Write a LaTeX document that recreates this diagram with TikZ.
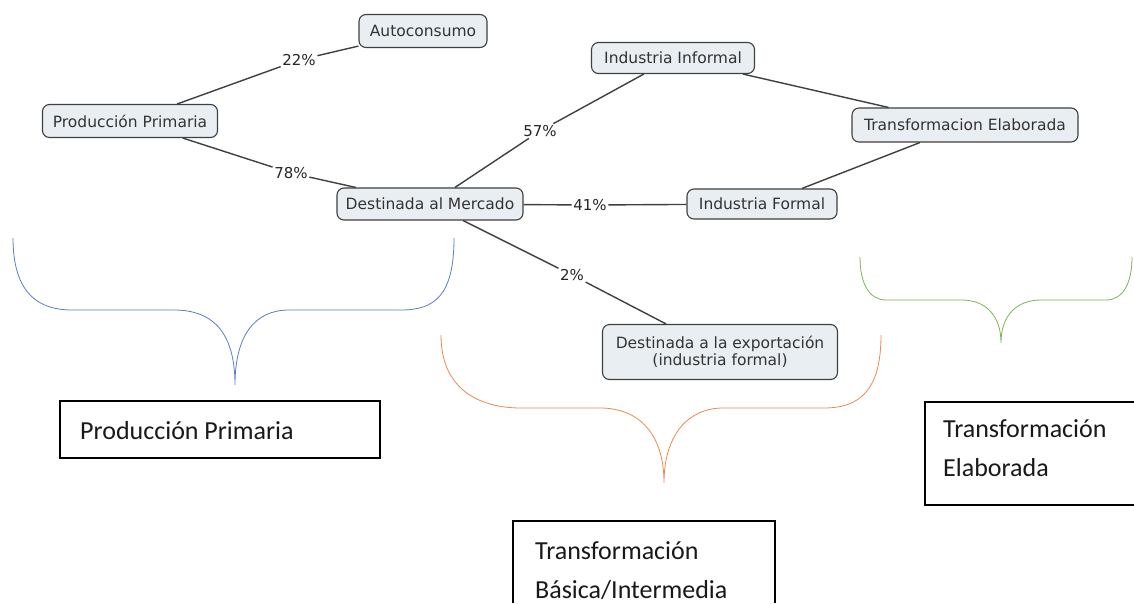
\documentclass[tikz,border=0pt]{standalone}
\usepackage{fontspec}
\setmainfont{DejaVu Sans}
\newfontfamily\boxfont{Carlito}
\begin{document}
\begin{tikzpicture}[x=1pt,y=-1pt,
  concept/.style={draw=black!75, line width=1.1pt, rounded corners=7pt, fill=nodefill,
    font=\fontsize{15.5}{17}\selectfont, text=black!80, minimum height=33pt, inner sep=3pt, align=center},
  link/.style={draw=black!75, line width=1.4pt},
  pct/.style={inner sep=1.5pt, font=\fontsize{15}{16}\selectfont, text=black!85},
  brace/.style={line width=0.8pt},
  stagetext/.style={font=\boxfont\fontsize{26}{30}\selectfont, anchor=base west, inner sep=0pt, text=black!90},
  stageframe/.style={line width=1.4pt}
]
\definecolor{nodefill}{HTML}{E9EEF2}
\definecolor{bblue}{HTML}{5B7FC6}
\definecolor{borange}{HTML}{F0884A}
\definecolor{bgreen}{HTML}{7DB557}
\useasboundingbox (0,0) rectangle (1134,603);
\fill[white] (0,0) rectangle (1134,603);

% concept nodes
\node[concept, minimum width=128pt] (auto) at (423,31) {Autoconsumo};
\node[concept, minimum width=175pt] (pp) at (130,121) {Producción Primaria};
\node[concept, minimum width=186pt, minimum height=32pt] (dm) at (430,204) {Destinada al Mercado};
\node[concept, minimum width=163pt, minimum height=31pt] (ii) at (673,58) {Industria Informal};
\node[concept, minimum width=226pt, minimum height=34pt] (te) at (965,125) {Transformacion Elaborada};
\node[concept, minimum width=150pt, minimum height=30pt] (if) at (762,204) {Industria Formal};
\node[concept, minimum width=235pt, minimum height=55pt] (ex) at (720,352) {Destinada a la exportación\\(industria formal)};

% linking phrases
\node[pct] (l22) at (299,60) {22\%};
\node[pct] (l78) at (291,173) {78\%};
\node[pct] (l57) at (540,131) {57\%};
\node[pct] (l41) at (590,205) {41\%};
\node[pct] (l2) at (572,275) {2\%};

% connectors
\draw[link] (pp) -- (l22) -- (auto);
\draw[link] (pp) -- (l78) -- (dm);
\draw[link] (dm) -- (l57) -- (ii);
\draw[link] (dm) -- (l41) -- (if);
\draw[link] (dm) -- (l2) -- (ex);
\draw[link] (ii) -- (te);
\draw[link] (te) -- (if);

% braces
\draw[brace, bblue] (13,238) .. controls (13,295) and (40,310) .. (72,310) -- (174,310)
  .. controls (215,310) and (235,335) .. (235,385)
  .. controls (235,335) and (255,310) .. (289,310) -- (401,310)
  .. controls (435,310) and (454,295) .. (454,238);
\draw[brace, borange] (441,335) .. controls (441,390) and (480,408) .. (521,408) -- (600,408)
  .. controls (640,408) and (664,435) .. (664,483)
  .. controls (664,435) and (688,408) .. (723,408) -- (824,408)
  .. controls (860,408) and (881,390) .. (881,335);
\draw[brace, bgreen] (860,257) .. controls (860,285) and (870,300) .. (886,300) -- (962,300)
  .. controls (985,300) and (1001,315) .. (1001,343)
  .. controls (1001,315) and (1017,300) .. (1041,300) -- (1106,300)
  .. controls (1122,300) and (1132,285) .. (1132,257);

% stage boxes
\draw[stageframe] (60,401) rectangle (380,458);
\node[stagetext] (s1) at (80,439) {Producción Primaria};
\draw[stageframe] (513,603) -- (513,521) -- (775,521) -- (775,603);
\node[stagetext] (s2a) at (535,559) {Transformación};
\node[stagetext] (s2b) at (535,598) {Básica/Intermedia};
\draw[stageframe] (1134,402) -- (925,402) -- (925,505) -- (1134,505);
\node[stagetext] (s3a) at (943,437) {Transformación};
\node[stagetext] (s3b) at (943,476) {Elaborada};
\end{tikzpicture}
\end{document}
